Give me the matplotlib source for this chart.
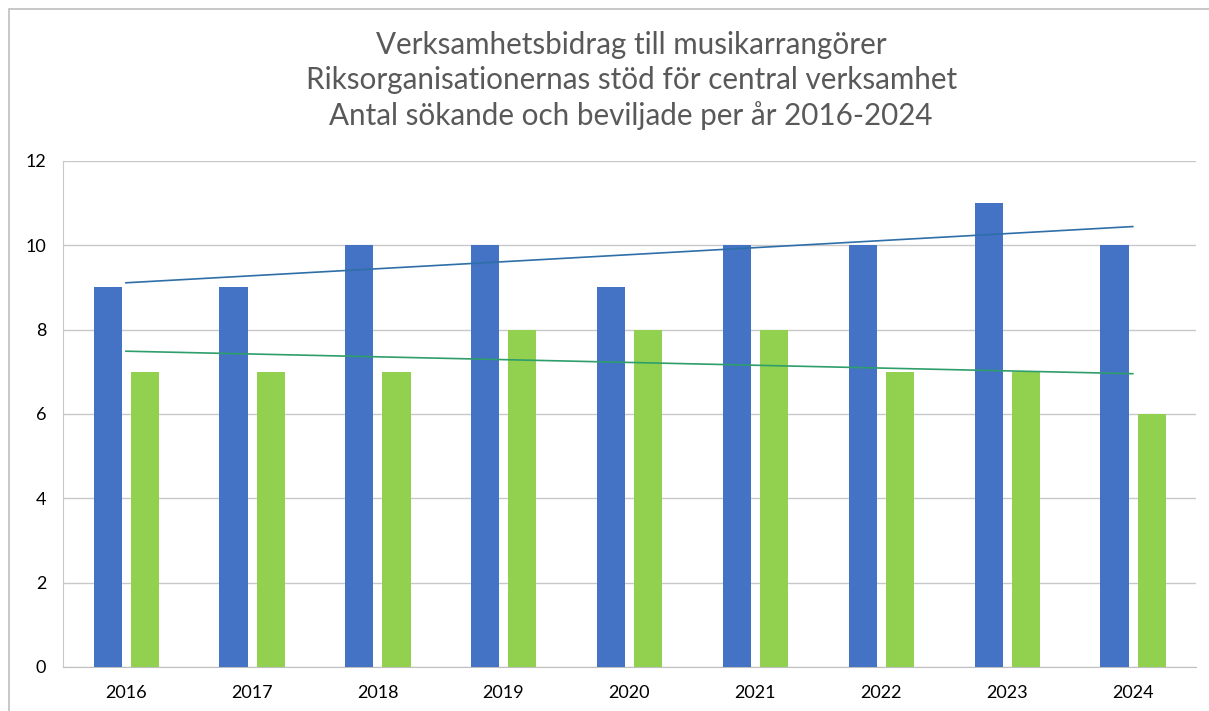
import numpy as np
import matplotlib.pyplot as plt
from matplotlib.patches import Rectangle

years = ["2016", "2017", "2018", "2019", "2020", "2021", "2022", "2023", "2024"]
sokande = [9, 9, 10, 10, 9, 10, 10, 11, 10]
beviljade = [7, 7, 7, 8, 8, 8, 7, 7, 6]
title_lines = [
    "Verksamhetsbidrag till musikarrangörer",
    "Riksorganisationernas stöd för central verksamhet",
    "Antal sökande och beviljade per år 2016-2024",
]

plt.rcParams["font.family"] = ["Lato", "DejaVu Sans"]

fig = plt.figure(figsize=(12.09, 7.11), dpi=100)
ax = fig.add_axes([0.0521, 0.0619, 0.9369, 0.7117])

# outer chart border (only top and left visible in the crop)
fig.patches.append(Rectangle((9 / 1209, -0.1), 1.2, 0.987 + 0.1, transform=fig.transFigure,
                             fill=False, edgecolor="#bfbfbf", linewidth=1.2))

x = np.arange(len(years))
w = 0.223
ax.bar(x - 0.145, sokande, width=w, color="#4472C4", zorder=3)
ax.bar(x + 0.15, beviljade, width=w, color="#92D050", zorder=3)

# linear trendlines
for vals, col in [(sokande, "#2E6FA8"), (beviljade, "#2E9E6B")]:
    k, m = np.polyfit(x, vals, 1)
    ax.plot(x, k * x + m, color=col, linewidth=1.2, zorder=4)

ax.set_xlim(-0.5, 8.5)
ax.set_ylim(0, 12)
ax.set_yticks(range(0, 13, 2))
ax.set_xticks(x)
ax.set_xticklabels(years)
ax.tick_params(length=0, labelsize=13, colors="black")
ax.tick_params(axis="x", pad=13)
ax.tick_params(axis="y", pad=12)
ax.grid(axis="y", color="#c8c8c8", linewidth=1, zorder=0)
for s in ["top", "right"]:
    ax.spines[s].set_visible(False)
ax.spines["left"].set_color("#c8c8c8")
ax.spines["bottom"].set_color("#bfbfbf")

for i, line in enumerate(title_lines):
    fig.text(0.522, 0.937 - i * 0.0495, line, ha="center", va="center",
             fontsize=21.3, color="#595959")

fig.savefig("out.png", dpi=100)
